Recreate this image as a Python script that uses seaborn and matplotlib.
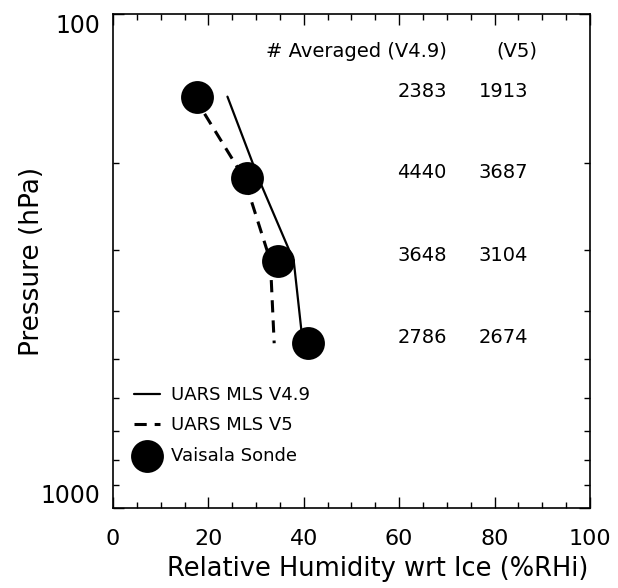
import numpy as np
import pandas as pd
import matplotlib
matplotlib.use("Agg")
import matplotlib.pyplot as plt
import matplotlib.ticker as mticker
import seaborn as sns

# ============================================================
# DATA
# ============================================================

pressure_levels = [147, 215, 316, 464]          # hPa
sonde_rhi = [17.6, 28.1, 34.6, 40.9]            # Vaisala sonde, %RHi
v49_rhi = [24.0, 30.5, 37.9, 39.8]              # UARS MLS V4.9
v5_rhi = [17.0, 27.5, 33.0, 33.8]               # UARS MLS V5
n_v49 = [2383, 4440, 3648, 2786]                # number averaged V4.9
n_v5 = [1913, 3687, 3104, 2674]                 # number averaged V5

x_ticks = [0, 20, 40, 60, 80, 100]
y_ticks = [100, 1000]

# ============================================================
# STYLE
# ============================================================

sns.set_style("ticks")
plt.rcParams["font.family"] = ["DejaVu Sans"]
plt.rcParams["text.color"] = "black"
plt.rcParams["axes.labelcolor"] = "black"
plt.rcParams["xtick.color"] = "black"
plt.rcParams["ytick.color"] = "black"

fig = plt.figure(figsize=(6.18, 5.88), dpi=100)
ax = fig.add_axes([0.1828, 0.1361, 0.7718, 0.8401])

ax.set_yscale("log")

# MLS retrievals
sns.lineplot(x=v49_rhi, y=pressure_levels, sort=False, color="black",
             linewidth=1.6, label="UARS MLS V4.9", ax=ax)
sns.lineplot(x=v5_rhi, y=pressure_levels, sort=False, color="black",
             linewidth=2.2, linestyle=(0, (4, 2.6)), label="UARS MLS V5", ax=ax)

# Sonde averages
sns.scatterplot(x=sonde_rhi, y=pressure_levels, s=560, color="black",
                edgecolor="black", linewidth=0, label="Vaisala Sonde",
                zorder=3, ax=ax)

# Axes limits and ticks
ax.set_xlim(0, 100)
ax.set_ylim(1000, 100)
ax.set_xticks(x_ticks)
ax.xaxis.set_minor_locator(mticker.MultipleLocator(5))
ax.yaxis.set_major_locator(mticker.FixedLocator(y_ticks))
ax.yaxis.set_major_formatter(mticker.FixedFormatter([str(t) for t in y_ticks]))
ax.yaxis.set_minor_locator(mticker.LogLocator(base=10, subs=np.arange(2, 10)))
ax.yaxis.set_minor_formatter(mticker.NullFormatter())

ax.tick_params(which="both", direction="in", top=True, right=True,
               width=1.0, colors="black", labelsize=16)
ax.tick_params(which="major", length=8)
ax.tick_params(which="minor", length=4)
ax.tick_params(axis="x", which="major", pad=15)
ax.tick_params(axis="y", which="major", pad=9, labelsize=17)

for s in ax.spines.values():
    s.set_linewidth(1.2)
    s.set_color("black")

ax.set_xlabel("Relative Humidity wrt Ice (%RHi)", fontsize=18.5)
ax.set_ylabel("Pressure (hPa)", fontsize=19)
ax.xaxis.set_label_coords(0.556, -0.098)
ax.yaxis.set_label_coords(-0.143, 0.5)

# Counts table
ax.text(70, 119, "# Averaged (V4.9)", ha="right", va="center", fontsize=14)
ax.text(88.9, 119, "(V5)", ha="right", va="center", fontsize=14)
for p, a, b in zip(pressure_levels, n_v49, n_v5):
    ax.annotate(str(a), xy=(70, p), xytext=(0, 4), textcoords="offset points",
                ha="right", va="center", fontsize=14)
    ax.annotate(str(b), xy=(87, p), xytext=(0, 4), textcoords="offset points",
                ha="right", va="center", fontsize=14)

ax.legend(loc="lower left", bbox_to_anchor=(0.045, 0.088), frameon=False,
          fontsize=13, handlelength=1.4, handletextpad=0.6,
          labelspacing=0.68, borderpad=0, borderaxespad=0)

# the end labels sit just inside the axis range, as in the original
fig.canvas.draw()
ylabels = ax.get_yticklabels()
ylabels[0].set_verticalalignment("top")
ylabels[1].set_verticalalignment("bottom")

fig.savefig("out.png", dpi=100)
